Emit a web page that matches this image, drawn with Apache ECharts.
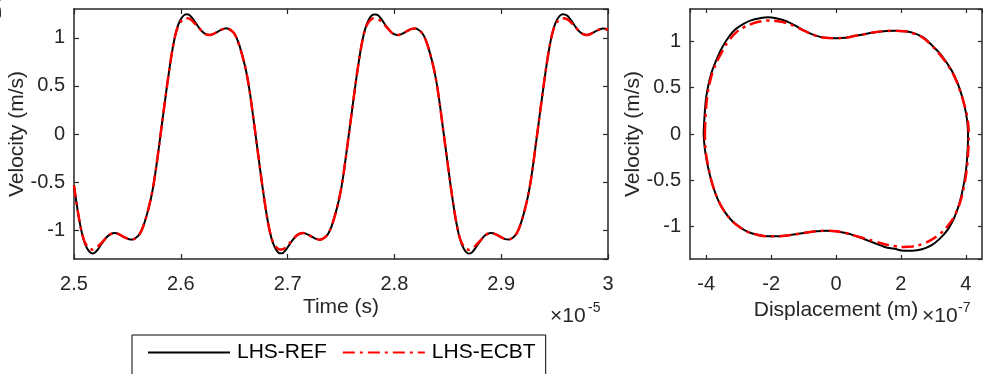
<!DOCTYPE html>
<html><head><meta charset="utf-8">
<script src="https://cdn.jsdelivr.net/npm/echarts@6/dist/echarts.min.js"></script>
<style>html,body{margin:0;padding:0;background:#fff}#c{width:983px;height:374px}</style>
</head><body><div id="c"></div>
<script>
// Time axis (units of 1e-5 s)
const time = [
2.5,2.5025,2.505,2.5075,2.51,2.5125,2.515,2.5175,2.52,2.5225,2.525,2.5275,2.53,2.5325,2.535,2.5375,2.54,2.5425,2.545,2.5475,
2.55,2.5525,2.555,2.5575,2.56,2.5625,2.565,2.5675,2.57,2.5725,2.575,2.5775,2.58,2.5825,2.585,2.5875,2.59,2.5925,2.595,2.5975,
2.6,2.6025,2.605,2.6075,2.61,2.6125,2.615,2.6175,2.62,2.6225,2.625,2.6275,2.63,2.6325,2.635,2.6375,2.64,2.6425,2.645,2.6475,
2.65,2.6525,2.655,2.6575,2.66,2.6625,2.665,2.6675,2.67,2.6725,2.675,2.6775,2.68,2.6825,2.685,2.6875,2.69,2.6925,2.695,2.6975,
2.7,2.7025,2.705,2.7075,2.71,2.7125,2.715,2.7175,2.72,2.7225,2.725,2.7275,2.73,2.7325,2.735,2.7375,2.74,2.7425,2.745,2.7475,
2.75,2.7525,2.755,2.7575,2.76,2.7625,2.765,2.7675,2.77,2.7725,2.775,2.7775,2.78,2.7825,2.785,2.7875,2.79,2.7925,2.795,2.7975,
2.8,2.8025,2.805,2.8075,2.81,2.8125,2.815,2.8175,2.82,2.8225,2.825,2.8275,2.83,2.8325,2.835,2.8375,2.84,2.8425,2.845,2.8475,
2.85,2.8525,2.855,2.8575,2.86,2.8625,2.865,2.8675,2.87,2.8725,2.875,2.8775,2.88,2.8825,2.885,2.8875,2.89,2.8925,2.895,2.8975,
2.9,2.9025,2.905,2.9075,2.91,2.9125,2.915,2.9175,2.92,2.9225,2.925,2.9275,2.93,2.9325,2.935,2.9375,2.94,2.9425,2.945,2.9475,
2.95,2.9525,2.955,2.9575,2.96,2.9625,2.965,2.9675,2.97,2.9725,2.975,2.9775,2.98,2.9825,2.985,2.9875,2.99,2.9925,2.995,2.9975,
3.0];

// Velocity (m/s), LHS-REF
const refVel = [
-0.534,-0.728,-0.898,-1.035,-1.132,-1.194,-1.231,-1.243,-1.230,-1.197,-1.157,-1.117,-1.080,-1.054,-1.037,-1.030,-1.033,-1.045,-1.060,-1.075,
-1.088,-1.097,-1.097,-1.084,-1.060,-1.021,-0.954,-0.868,-0.765,-0.645,-0.492,-0.303,-0.093,0.117,0.327,0.534,0.728,0.898,1.035,1.132,
1.194,1.231,1.245,1.241,1.216,1.178,1.138,1.098,1.066,1.044,1.032,1.030,1.038,1.052,1.067,1.082,1.093,1.099,1.092,1.074,
1.046,0.992,0.916,0.820,0.712,0.578,0.406,0.202,-0.008,-0.218,-0.428,-0.630,-0.814,-0.970,-1.088,-1.166,-1.216,-1.241,-1.241,-1.216,
-1.178,-1.138,-1.098,-1.066,-1.044,-1.032,-1.030,-1.038,-1.052,-1.067,-1.082,-1.093,-1.099,-1.092,-1.074,-1.046,-0.992,-0.916,-0.820,-0.712,
-0.578,-0.406,-0.202,0.008,0.218,0.428,0.630,0.814,0.970,1.088,1.166,1.216,1.241,1.244,1.232,1.199,1.159,1.119,1.082,1.054,
1.037,1.030,1.033,1.044,1.059,1.074,1.088,1.096,1.097,1.084,1.062,1.023,0.958,0.872,0.769,0.651,0.500,0.311,0.101,-0.109,
-0.319,-0.526,-0.720,-0.892,-1.031,-1.130,-1.193,-1.231,-1.244,-1.232,-1.199,-1.159,-1.119,-1.082,-1.054,-1.037,-1.030,-1.033,-1.044,-1.059,
-1.074,-1.088,-1.096,-1.097,-1.084,-1.062,-1.023,-0.958,-0.872,-0.769,-0.651,-0.500,-0.311,-0.101,0.109,0.319,0.526,0.720,0.892,1.031,
1.130,1.193,1.231,1.245,1.242,1.224,1.189,1.149,1.109,1.074,1.050,1.035,1.030,1.035,1.048,1.063,1.078,1.090,1.098,1.095,
1.080];

// Velocity (m/s), LHS-ECBT
const ecbtVel = [
-0.534,-0.728,-0.898,-1.035,-1.123,-1.168,-1.194,-1.203,-1.194,-1.170,-1.141,-1.112,-1.080,-1.054,-1.037,-1.030,-1.033,-1.045,-1.060,-1.075,
-1.088,-1.097,-1.097,-1.084,-1.060,-1.021,-0.954,-0.868,-0.765,-0.645,-0.492,-0.303,-0.093,0.117,0.327,0.534,0.728,0.898,1.035,1.123,
1.168,1.194,1.204,1.202,1.184,1.156,1.127,1.098,1.066,1.044,1.032,1.030,1.038,1.052,1.067,1.082,1.093,1.099,1.092,1.074,
1.046,0.992,0.916,0.820,0.712,0.578,0.406,0.202,-0.008,-0.218,-0.428,-0.630,-0.814,-0.970,-1.088,-1.148,-1.184,-1.202,-1.202,-1.184,
-1.156,-1.127,-1.098,-1.066,-1.044,-1.032,-1.030,-1.038,-1.052,-1.067,-1.082,-1.093,-1.099,-1.092,-1.074,-1.046,-0.992,-0.916,-0.820,-0.712,
-0.578,-0.406,-0.202,0.008,0.218,0.428,0.630,0.814,0.970,1.088,1.148,1.184,1.202,1.204,1.195,1.171,1.142,1.114,1.082,1.054,
1.037,1.030,1.033,1.044,1.059,1.074,1.088,1.096,1.097,1.084,1.062,1.023,0.958,0.872,0.769,0.651,0.500,0.311,0.101,-0.109,
-0.319,-0.526,-0.720,-0.892,-1.031,-1.122,-1.167,-1.194,-1.204,-1.195,-1.171,-1.142,-1.114,-1.082,-1.054,-1.037,-1.030,-1.033,-1.044,-1.059,
-1.074,-1.088,-1.096,-1.097,-1.084,-1.062,-1.023,-0.958,-0.872,-0.769,-0.651,-0.500,-0.311,-0.101,0.109,0.319,0.526,0.720,0.892,1.031,
1.122,1.167,1.194,1.204,1.202,1.189,1.164,1.135,1.106,1.074,1.050,1.035,1.030,1.035,1.048,1.063,1.078,1.090,1.098,1.095,
1.080];

// Phase portrait: [displacement (1e-7 m), velocity (m/s)]
const refPhase = [
[-4.08,0.00],[-4.05,0.20],[-4.00,0.40],[-3.90,0.58],[-3.80,0.70],[-3.65,0.83],[-3.50,0.94],[-3.30,1.05],[-3.10,1.13],[-2.85,1.19],
[-2.60,1.23],[-2.35,1.25],[-2.10,1.26],[-1.85,1.25],[-1.55,1.22],[-1.25,1.17],[-0.95,1.11],[-0.65,1.065],[-0.35,1.04],[0.00,1.035],
[0.30,1.04],[0.60,1.06],[0.90,1.08],[1.20,1.10],[1.50,1.11],[1.80,1.115],[2.10,1.11],[2.40,1.09],[2.70,1.04],[2.95,0.96],
[3.20,0.87],[3.45,0.75],[3.65,0.63],[3.82,0.48],[3.95,0.32],[4.04,0.15],[4.07,0.00],[4.06,-0.15],[4.02,-0.35],[3.95,-0.52],
[3.82,-0.73],[3.65,-0.90],[3.45,-1.03],[3.20,-1.13],[2.95,-1.20],[2.65,-1.245],[2.35,-1.26],[2.10,-1.26],[1.80,-1.24],[1.50,-1.22],
[1.20,-1.18],[0.90,-1.14],[0.60,-1.10],[0.30,-1.07],[0.00,-1.05],[-0.30,-1.045],[-0.60,-1.05],[-0.90,-1.065],[-1.20,-1.08],[-1.50,-1.095],
[-1.80,-1.105],[-2.10,-1.105],[-2.40,-1.09],[-2.70,-1.06],[-2.95,-1.01],[-3.20,-0.94],[-3.45,-0.83],[-3.65,-0.70],[-3.82,-0.53],[-3.95,-0.35],
[-4.04,-0.17],[-4.08,0.00]];

const ecbtPhase = [
[-4.04,0.00],[-4.02,0.20],[-3.97,0.40],[-3.88,0.57],[-3.78,0.69],[-3.63,0.81],[-3.48,0.91],[-3.30,1.01],[-3.10,1.09],[-2.85,1.15],
[-2.60,1.19],[-2.35,1.215],[-2.10,1.225],[-1.85,1.22],[-1.55,1.20],[-1.25,1.16],[-0.95,1.11],[-0.65,1.065],[-0.35,1.04],[0.00,1.035],
[0.30,1.04],[0.60,1.06],[0.90,1.08],[1.20,1.10],[1.50,1.11],[1.80,1.115],[2.10,1.11],[2.40,1.085],[2.70,1.035],[2.95,0.955],
[3.20,0.86],[3.45,0.74],[3.65,0.62],[3.82,0.47],[3.96,0.31],[4.06,0.15],[4.09,0.00],[4.08,-0.15],[4.04,-0.35],[3.97,-0.52],
[3.84,-0.72],[3.66,-0.88],[3.45,-0.99],[3.20,-1.08],[2.95,-1.14],[2.65,-1.19],[2.35,-1.215],[2.10,-1.22],[1.80,-1.21],[1.50,-1.19],
[1.20,-1.16],[0.90,-1.13],[0.60,-1.10],[0.30,-1.07],[0.00,-1.05],[-0.30,-1.045],[-0.60,-1.05],[-0.90,-1.065],[-1.20,-1.08],[-1.50,-1.095],
[-1.80,-1.105],[-2.10,-1.105],[-2.40,-1.09],[-2.70,-1.06],[-2.95,-1.01],[-3.20,-0.94],[-3.45,-0.83],[-3.65,-0.70],[-3.82,-0.53],[-3.94,-0.35],
[-4.02,-0.17],[-4.04,0.00]];

const seriesNames = ['LHS-REF', 'LHS-ECBT'];
const timeLabel = 'Time (s)';
const dispLabel = 'Displacement (m)';
const velLabel = 'Velocity (m/s)';

const FF = '"Liberation Sans", Arial, Helvetica, sans-serif';
const AX = '#262626';

function xAx(grid, pos, min, max, opts) {
  const o = {
    type: 'value', gridIndex: grid, position: pos, min: min, max: max,
    axisLine: { show: true, onZero: false, lineStyle: { color: AX, width: 1.5 } },
    axisTick: { show: true, inside: true, length: grid === 0 ? 5 : 4, lineStyle: { color: AX, width: 1.2 } },
    axisLabel: { show: pos === 'bottom', color: AX, fontSize: 20, fontFamily: FF, margin: 15, showMinLabel: grid === 0, showMaxLabel: grid === 0 },
    splitLine: { show: false },
    nameMoveOverlap: false
  };
  return Object.assign(o, opts || {});
}
function yAx(grid, pos, min, max, opts) {
  const o = {
    type: 'value', gridIndex: grid, position: pos, min: min, max: max,
    axisLine: { show: true, onZero: false, lineStyle: { color: AX, width: 1.5 } },
    axisTick: { show: true, inside: true, length: grid === 0 ? 5 : 4, lineStyle: { color: AX, width: 1.2 } },
    axisLabel: { show: pos === 'left', color: AX, fontSize: 20, fontFamily: FF, margin: 9, showMinLabel: false, showMaxLabel: false },
    splitLine: { show: false },
    nameMoveOverlap: false
  };
  return Object.assign(o, opts || {});
}
const nameStyle = { fontSize: 21, color: AX, fontFamily: FF };

const chart = echarts.init(document.getElementById('c'), null, { renderer: 'canvas' });
chart.setOption({
  animation: false,
  backgroundColor: '#fff',
  grid: [
    { left: 74, top: 9, width: 534, height: 250, containLabel: false, outerBoundsMode: 'none' },
    { left: 690, top: 9, width: 292, height: 250, containLabel: false, outerBoundsMode: 'none' }
  ],
  xAxis: [
    xAx(0, 'bottom', 2.5, 3, { interval: 0.1, name: timeLabel, nameLocation: 'middle', nameGap: 38, nameTextStyle: nameStyle }),
    xAx(0, 'top', 2.5, 3, { interval: 0.1 }),
    xAx(1, 'bottom', -4.5, 4.5, { splitNumber: 4, name: dispLabel, nameLocation: 'middle', nameGap: 41, nameTextStyle: nameStyle }),
    xAx(1, 'top', -4.5, 4.5, { splitNumber: 4 })
  ],
  yAxis: [
    yAx(0, 'left', -1.3, 1.3, { name: velLabel, nameLocation: 'middle', nameRotate: 90, nameGap: 46, nameTextStyle: nameStyle }),
    yAx(0, 'right', -1.3, 1.3),
    yAx(1, 'left', -1.35, 1.35, { name: velLabel, nameLocation: 'middle', nameRotate: 90, nameGap: 46, nameTextStyle: nameStyle }),
    yAx(1, 'right', -1.35, 1.35)
  ],
  legend: {
    left: 132, top: 335, orient: 'horizontal',
    itemWidth: 82, itemHeight: 20, itemGap: 15,
    padding: [7, 10, 40, 15],
    borderColor: '#000', borderWidth: 1, borderRadius: 0,
    itemStyle: { color: 'rgba(0,0,0,0)', borderColor: 'rgba(0,0,0,0)', borderWidth: 0 },
    textStyle: { fontSize: 21, fontFamily: FF, color: '#000', padding: [0, 0, 0, 2] },
    data: seriesNames
  },
  series: [
    { name: seriesNames[0], type: 'line', xAxisIndex: 0, yAxisIndex: 0, symbol: 'none', smooth: 0.2,
      data: time.map((t, i) => [t, refVel[i]]), lineStyle: { color: '#000', width: 2 }, itemStyle: { color: '#000' }, z: 2 },
    { name: seriesNames[1], type: 'line', xAxisIndex: 0, yAxisIndex: 0, symbol: 'none', smooth: 0.2,
      data: time.map((t, i) => [t, ecbtVel[i]]), lineStyle: { color: '#ff0000', width: 2.5, type: [12, 5, 3, 5] }, itemStyle: { color: '#ff0000' }, z: 3 },
    { name: seriesNames[0], type: 'line', xAxisIndex: 2, yAxisIndex: 2, symbol: 'none', smooth: 0.4,
      data: refPhase, lineStyle: { color: '#000', width: 2 }, itemStyle: { color: '#000' }, z: 2 },
    { name: seriesNames[1], type: 'line', xAxisIndex: 2, yAxisIndex: 2, symbol: 'none', smooth: 0.4,
      data: ecbtPhase, lineStyle: { color: '#ff0000', width: 2.5, type: [12, 5, 3, 5] }, itemStyle: { color: '#ff0000' }, z: 3 }
  ],
  graphic: [
    { type: 'text', x: 550, y: 316, style: { text: '×10', font: '21px ' + FF, fill: AX, verticalAlign: 'middle' } },
    { type: 'text', x: 588, y: 308, style: { text: '-5', font: '14px ' + FF, fill: AX, verticalAlign: 'middle' } },
    { type: 'text', x: 922, y: 316, style: { text: '×10', font: '21px ' + FF, fill: AX, verticalAlign: 'middle' } },
    { type: 'text', x: 958, y: 308, style: { text: '-7', font: '14px ' + FF, fill: AX, verticalAlign: 'middle' } },
    { type: 'text', x: 6, y: 18, rotation: Math.PI / 2, style: { text: 'Dc', font: '20px "Liberation Serif", serif', fill: AX, verticalAlign: 'bottom' } }
  ]
});
</script>
</body></html>
